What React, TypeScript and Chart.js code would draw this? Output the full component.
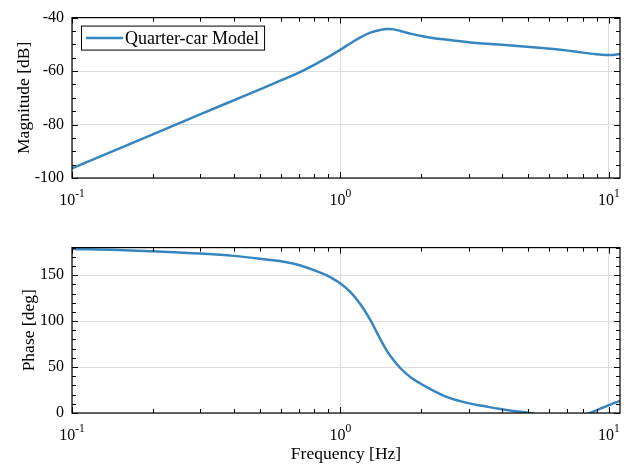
import React, { useEffect, useRef } from 'react';
import { Chart, registerables } from 'chart.js';

Chart.register(...registerables);

const FONT = '"Liberation Serif", "Times New Roman", serif';
const LINE_COLOR = '#3586BE';
const GRID_COLOR = '#dddddd';
const TICK_SIZE = 16;
const TITLE_SIZE = 17.5;
const LEGEND_SIZE = 18;

const legendLabel = 'Quarter-car Model';

const magFreq = [0.1, 0.2, 0.3, 0.45, 0.6, 0.71, 0.842, 0.92, 1.0, 1.09, 1.187, 1.293, 1.41, 1.5, 1.58, 1.673, 1.82, 2.0, 2.2, 2.5, 3.05, 3.5, 4.0, 4.68, 5.5, 6.5, 7.2, 8.0, 9.0, 10.1, 11.0];
const magDb = [-96.4, -83.7, -76.2, -68.8, -63.5, -60.3, -56.4, -54.2, -52.0, -49.6, -47.4, -45.6, -44.6, -44.3, -44.4, -45.0, -46.0, -46.9, -47.6, -48.3, -49.3, -49.8, -50.2, -50.7, -51.3, -51.9, -52.5, -53.1, -53.7, -54.0, -53.6];

const phaseFreq = [0.1, 0.15, 0.2, 0.3, 0.4, 0.53, 0.63, 0.71, 0.842, 0.92, 1.0, 1.09, 1.187, 1.293, 1.37, 1.45, 1.535, 1.673, 1.82, 1.985, 2.163, 2.5, 2.96, 3.5, 3.94, 4.5, 5.03, 6.0, 7.0, 7.8, 8.52, 9.3, 10.0, 11.0];
const phaseDeg = [178.5, 177.5, 176, 173.5, 171, 167, 164, 160.5, 152.8, 147.5, 141, 131.6, 118.3, 101, 87, 73.5, 62, 48.7, 39.3, 32.1, 26, 17.3, 11.0, 7.0, 4.4, 2, 0, -4, -6, -5, 0, 4.8, 8.6, 13.2];

const xTickValues = [0.1, 1, 10];
const xTickExponents = ['-1', '0', '1'];
const magTicks = [-100, -80, -60, -40];
const phaseTicks = [0, 50, 100, 150];

type FrameOpts = {
  yMinor: number;
  yMajor: number[];
  legend?: string;
};

function makeFramePlugin(opts: FrameOpts) {
  return {
    id: 'frameTicks',
    afterDraw(chart: any) {
      const { ctx, chartArea } = chart;
      const { left, right, top, bottom } = chartArea;
      const xs = chart.scales.x;
      const ys = chart.scales.y;
      ctx.save();
      ctx.strokeStyle = '#000';
      ctx.lineWidth = 1;
      ctx.beginPath();
      for (const d of [0.1, 1, 10]) {
        for (let m = 1; m <= 9; m++) {
          const v = m * d;
          if (v < xs.min - 1e-9 || v > xs.max + 1e-9) continue;
          const px = Math.round(xs.getPixelForValue(v)) + 0.5;
          const len = m === 1 ? 6 : 4;
          ctx.moveTo(px, bottom);
          ctx.lineTo(px, bottom - len);
          ctx.moveTo(px, top);
          ctx.lineTo(px, top + len);
        }
      }
      const n = Math.round((ys.max - ys.min) / opts.yMinor);
      for (let i = 0; i <= n; i++) {
        const v = ys.min + i * opts.yMinor;
        const py = Math.round(ys.getPixelForValue(v)) + 0.5;
        const major = opts.yMajor.some((t) => Math.abs(t - v) < 1e-6);
        const len = major ? 6 : 4;
        ctx.moveTo(left, py);
        ctx.lineTo(left + len, py);
        ctx.moveTo(right, py);
        ctx.lineTo(right - len, py);
      }
      ctx.stroke();
      ctx.lineWidth = 1.2;
      ctx.strokeRect(left, top, right - left, bottom - top);

      ctx.fillStyle = '#000';
      ctx.textBaseline = 'alphabetic';
      ctx.textAlign = 'left';
      xTickValues.forEach((v, i) => {
        const px = xs.getPixelForValue(v);
        ctx.font = `${TICK_SIZE}px ${FONT}`;
        const w1 = ctx.measureText('10').width;
        ctx.font = `11.5px ${FONT}`;
        const w2 = ctx.measureText(xTickExponents[i]).width;
        const start = px - (w1 + w2) / 2;
        ctx.font = `${TICK_SIZE}px ${FONT}`;
        ctx.fillText('10', start, bottom + 26.5);
        ctx.font = `11.5px ${FONT}`;
        ctx.fillText(xTickExponents[i], start + w1, bottom + 18.5);
      });

      if (opts.legend) {
        ctx.font = `${LEGEND_SIZE}px ${FONT}`;
        const tw = ctx.measureText(opts.legend).width;
        const bx = left + 9;
        const by = top + 8;
        const bw = 45 + tw + 4;
        const bh = 24;
        ctx.fillStyle = '#fff';
        ctx.fillRect(bx, by, bw, bh);
        ctx.strokeStyle = '#000';
        ctx.lineWidth = 1;
        ctx.strokeRect(bx + 0.5, by + 0.5, bw, bh);
        ctx.strokeStyle = LINE_COLOR;
        ctx.lineWidth = 2.5;
        ctx.beginPath();
        ctx.moveTo(bx + 5, by + 12.5);
        ctx.lineTo(bx + 42, by + 12.5);
        ctx.stroke();
        ctx.fillStyle = '#000';
        ctx.textBaseline = 'middle';
        ctx.fillText(opts.legend, bx + 44, by + 13.5);
      }
      ctx.restore();
    },
  };
}

function baseXScale(height: number, title?: string) {
  return {
    type: 'logarithmic' as const,
    min: 0.1,
    max: 11,
    afterBuildTicks: (s: any) => {
      s.ticks = xTickValues.map((v) => ({ value: v }));
    },
    afterFit: (s: any) => {
      s.height = height;
    },
    ticks: { display: false },
    grid: { color: GRID_COLOR, lineWidth: 1, drawTicks: false },
    border: { display: false },
    title: title
      ? {
          display: true,
          text: title,
          color: '#000',
          font: { family: FONT, size: TITLE_SIZE },
          padding: { top: 0, bottom: 6 },
        }
      : { display: false },
  };
}

function yScale(min: number, max: number, ticks: number[], title: string, titlePad: number) {
  return {
    min,
    max,
    afterBuildTicks: (s: any) => {
      s.ticks = ticks.map((v) => ({ value: v }));
    },
    afterFit: (s: any) => {
      s.width = 72;
    },
    ticks: { color: '#000', font: { family: FONT, size: TICK_SIZE }, padding: 8 },
    grid: { color: GRID_COLOR, lineWidth: 1, drawTicks: false },
    border: { display: false },
    title: {
      display: true,
      text: title,
      color: '#000',
      font: { family: FONT, size: TITLE_SIZE },
      padding: { top: titlePad, bottom: 0 },
    },
  };
}

export default function App() {
  const topRef = useRef<HTMLCanvasElement | null>(null);
  const botRef = useRef<HTMLCanvasElement | null>(null);

  useEffect(() => {
    const top = new Chart(topRef.current as HTMLCanvasElement, {
      type: 'line',
      data: {
        datasets: [
          {
            label: legendLabel,
            data: magFreq.map((f, i) => ({ x: f, y: magDb[i] })),
            borderColor: LINE_COLOR,
            borderWidth: 2.5,
            pointRadius: 0,
            tension: 0.4,
            fill: false,
            clip: 0,
          } as any,
        ],
      },
      options: {
        responsive: false,
        animation: false,
        layout: { padding: { top: 10, right: 15, left: 0, bottom: 0 } },
        plugins: { legend: { display: false }, tooltip: { enabled: false } },
        scales: {
          x: baseXScale(52) as any,
          y: yScale(-100, -40, magTicks, 'Magnitude [dB]', 14) as any,
        },
      },
      plugins: [makeFramePlugin({ yMinor: 5, yMajor: magTicks, legend: legendLabel })],
    });

    const bot = new Chart(botRef.current as HTMLCanvasElement, {
      type: 'line',
      data: {
        datasets: [
          {
            label: 'Phase',
            data: phaseFreq.map((f, i) => ({ x: f, y: phaseDeg[i] })),
            borderColor: LINE_COLOR,
            borderWidth: 2.5,
            pointRadius: 0,
            tension: 0.4,
            fill: false,
            clip: 0,
          } as any,
        ],
      },
      options: {
        responsive: false,
        animation: false,
        layout: { padding: { top: 15, right: 15, left: 0, bottom: 0 } },
        plugins: { legend: { display: false }, tooltip: { enabled: false } },
        scales: {
          x: baseXScale(58, 'Frequency [Hz]') as any,
          y: yScale(0, 180, phaseTicks, 'Phase [deg]', 19) as any,
        },
      },
      plugins: [makeFramePlugin({ yMinor: 10, yMajor: phaseTicks })],
    });

    return () => {
      top.destroy();
      bot.destroy();
    };
  }, []);

  return (
    <div style={{ position: 'absolute', left: 0, top: 0, width: 635, height: 471, background: '#fff' }}>
      <canvas
        ref={topRef}
        width={635}
        height={230}
        style={{ position: 'absolute', left: 0, top: 0, display: 'block' }}
      />
      <canvas
        ref={botRef}
        width={635}
        height={241}
        style={{ position: 'absolute', left: 0, top: 230, display: 'block' }}
      />
    </div>
  );
}
